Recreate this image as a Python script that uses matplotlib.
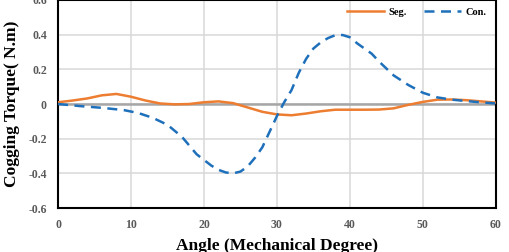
import matplotlib
matplotlib.use("Agg")
import matplotlib.pyplot as plt

angle_seg = [0, 2, 4, 6, 8, 10, 12, 14, 16, 18, 20, 22, 24, 26, 28, 30,
             32, 34, 36, 38, 40, 42, 44, 46, 48, 50, 52, 54, 56, 58, 60]
seg = [0.01, 0.02, 0.032, 0.05, 0.058, 0.042, 0.02, 0.003, -0.002, 0.0, 0.01,
       0.015, 0.005, -0.02, -0.045, -0.06, -0.065, -0.055, -0.042, -0.033,
       -0.033, -0.033, -0.032, -0.025, -0.005, 0.012, 0.025, 0.026, 0.022,
       0.015, 0.008]
angle_con = [0, 3, 6, 9, 11, 13, 15, 17, 19, 21, 22, 23, 24, 25, 26, 27, 28,
             29, 30, 31, 32, 33, 34, 35, 36, 37, 38, 39, 40, 41, 42, 43, 44,
             46, 48, 50, 52, 54, 57, 60]
con = [0.0, -0.012, -0.022, -0.035, -0.052, -0.08, -0.12, -0.19, -0.29,
       -0.355, -0.38, -0.395, -0.40, -0.39, -0.36, -0.31, -0.25, -0.16,
       -0.07, 0.01, 0.08, 0.18, 0.26, 0.32, 0.355, 0.38, 0.397, 0.398, 0.385,
       0.35, 0.32, 0.29, 0.245, 0.165, 0.11, 0.065, 0.038, 0.025, 0.013, 0.003]
xticks = [0, 10, 20, 30, 40, 50, 60]
yticks = [-0.6, -0.4, -0.2, 0, 0.2, 0.4, 0.6]
ytick_labels = ["-0.6", "-0.4", "-0.2", "0", "0.2", "0.4", "0.6"]

serif = ["Liberation Serif", "DejaVu Serif"]

fig = plt.figure(figsize=(5.09, 2.52), dpi=100)
ax = fig.add_axes([0.114, 0.1746, 0.860, 0.8254])

ax.set_xlim(0, 60)
ax.set_ylim(-0.6, 0.6)
ax.set_xticks(xticks)
ax.set_yticks(yticks)
ax.set_yticklabels(ytick_labels)
ax.grid(True, color="#d9d9d9", linewidth=1.1)
ax.set_axisbelow(True)
ax.axhline(0, color="#a6a6a6", linewidth=1.8, zorder=1.5)

ax.plot(angle_seg, seg, color="#ed7d31", linewidth=1.8, label="Seg.", zorder=3)
ax.plot(angle_con, con, color="#1f70bb", linewidth=1.8, dashes=(4, 2.6),
        label="Con.", zorder=3)

for s in ax.spines.values():
    s.set_color("black")
    s.set_linewidth(1.5)

ax.tick_params(length=0, pad=8, labelsize=8.5, labelcolor="#595959")
for lbl in ax.get_xticklabels() + ax.get_yticklabels():
    lbl.set_fontfamily(serif)
    lbl.set_fontweight("bold")

ax.set_xlabel("Angle (Mechanical Degree)", fontfamily=serif, fontweight="bold",
              fontsize=12.5, labelpad=5)
ax.set_ylabel("Cogging Torque( N.m)", fontfamily=serif, fontweight="bold",
              fontsize=12.5, labelpad=6)

leg = ax.legend(loc="upper right", ncol=2, frameon=False,
                prop={"family": serif, "weight": "bold", "size": 7.5},
                handlelength=3.6, columnspacing=1.6, handletextpad=0.4,
                bbox_to_anchor=(0.995, 1.0), borderaxespad=0.3)

fig.savefig("out.png", dpi=100)
